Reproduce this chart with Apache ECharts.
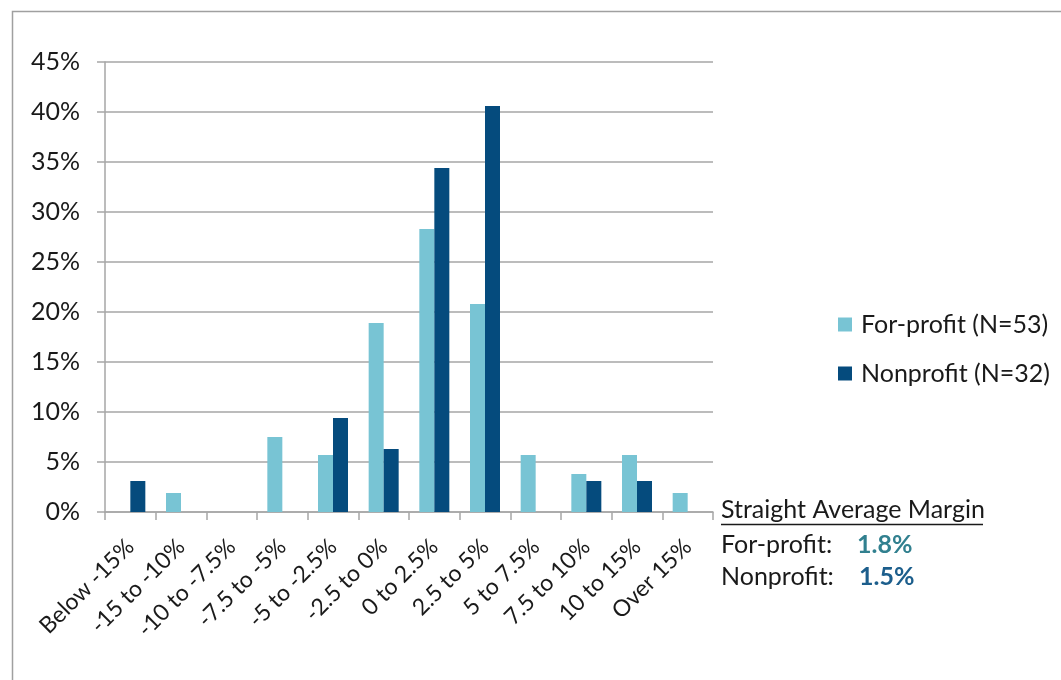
<!DOCTYPE html>
<html>
<head>
    <meta charset="utf-8">
    <title>Operating margin distribution</title>
    <script src="https://cdn.jsdelivr.net/npm/echarts@6/dist/echarts.min.js"></script>
    <style>
        html, body { margin: 0; padding: 0; background: #fff; }
        #chart { width: 1061px; height: 680px; }
    </style>
</head>
<body>
    <div id="chart"></div>
    <script type="text/javascript">
        // margin buckets
        var categories = ['Below -15%', '-15 to -10%', '-10 to -7.5%', '-7.5 to -5%', '-5 to -2.5%',
            '-2.5 to 0%', '0 to 2.5%', '2.5 to 5%', '5 to 7.5%', '7.5 to 10%', '10 to 15%', 'Over 15%'];
        var seriesNames = ['For-profit (N=53)', 'Nonprofit (N=32)'];
        // share of hospitals in each bucket, %
        var forProfit = [0, 1.9, 0, 7.5, 5.7, 18.9, 28.3, 20.8, 5.7, 3.8, 5.7, 1.9];
        var nonProfit = [3.1, 0, 0, 0, 9.4, 6.3, 34.4, 40.6, 0, 3.1, 3.1, 0];
        var avgLabels = ['For-profit:', 'Nonprofit:'];
        var averages = ['1.8%', '1.5%'];

        var font = 'Lato';
        var fs = 25;
        var txt = '#1a1a1a';
        var gridColor = '#a6a6a6';

        // empty buckets draw no bar at all
        function noZero(arr) {
            return arr.map(function (v) { return v === 0 ? '-' : v; });
        }

        var chart = echarts.init(document.getElementById('chart'));

        var option = {
            animation: false,
            textStyle: { fontFamily: font },
            grid: { left: 105, right: 348, top: 62, bottom: 168, containLabel: false },
            legend: {
                orient: 'vertical',
                left: 838,
                top: 312,
                padding: 0,
                itemWidth: 14,
                itemHeight: 14,
                itemGap: 24,
                icon: 'rect',
                textStyle: { fontFamily: font, fontSize: fs, color: txt, padding: [0, 0, 0, 4] },
                data: seriesNames
            },
            xAxis: {
                type: 'category',
                data: categories,
                axisLine: { lineStyle: { color: gridColor, width: 1.5 } },
                axisTick: { show: true, length: 8, lineStyle: { color: gridColor, width: 1.5 } },
                axisLabel: {
                    interval: 0,
                    rotate: 45,
                    margin: 31,
                    fontFamily: font,
                    fontSize: 23,
                    color: txt
                }
            },
            yAxis: {
                type: 'value',
                min: 0,
                max: 45,
                interval: 5,
                axisLine: { show: true, lineStyle: { color: gridColor, width: 1.5 } },
                axisTick: { show: true, length: 8, lineStyle: { color: gridColor, width: 1.5 } },
                splitLine: { lineStyle: { color: gridColor, width: 1.5 } },
                axisLabel: {
                    margin: 25,
                    fontFamily: font,
                    fontSize: fs,
                    color: txt,
                    formatter: '{value}%'
                }
            },
            series: [
                {
                    name: seriesNames[0],
                    type: 'bar',
                    data: noZero(forProfit),
                    barWidth: 15,
                    barGap: '0%',
                    itemStyle: { color: '#78c4d4' }
                },
                {
                    name: seriesNames[1],
                    type: 'bar',
                    data: noZero(nonProfit),
                    barWidth: 15,
                    barGap: '0%',
                    itemStyle: { color: '#054b7d' }
                }
            ],
            graphic: [
                {
                    type: 'rect',
                    shape: { x: 12.5, y: 11.5, width: 1100, height: 720 },
                    style: { fill: 'none', stroke: '#a0a0a0', lineWidth: 1.5 },
                    silent: true
                },
                {
                    type: 'text', left: 721, top: 497,
                    style: { text: 'Straight Average Margin', font: fs + 'px ' + font, fill: txt }
                },
                {
                    type: 'line',
                    shape: { x1: 721, y1: 524.5, x2: 983, y2: 524.5 },
                    style: { stroke: txt, lineWidth: 1.5 }
                },
                {
                    type: 'text', left: 721, top: 532,
                    style: { text: avgLabels[0], font: fs + 'px ' + font, fill: txt }
                },
                {
                    type: 'text', left: 857, top: 532,
                    style: { text: averages[0], font: 'bold ' + fs + 'px ' + font, fill: '#31808f' }
                },
                {
                    type: 'text', left: 721, top: 564,
                    style: { text: avgLabels[1], font: fs + 'px ' + font, fill: txt }
                },
                {
                    type: 'text', left: 859, top: 564,
                    style: { text: averages[1], font: 'bold ' + fs + 'px ' + font, fill: '#1c5e8c' }
                }
            ]
        };

        chart.setOption(option);
    </script>
</body>
</html>
